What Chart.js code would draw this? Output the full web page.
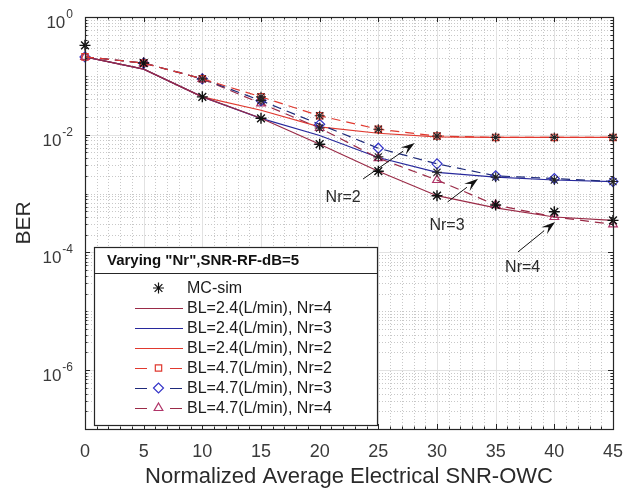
<!DOCTYPE html>
<html>
<head>
<meta charset="utf-8">
<script src="https://cdn.jsdelivr.net/npm/chart.js@4.4.1/dist/chart.umd.min.js"></script>
<style>
html,body{margin:0;padding:0;background:#fff;}
#wrap{position:relative;width:637px;height:492px;}
</style>
</head>
<body>
<div id="wrap"><canvas id="c" width="637" height="492"></canvas></div>
<script>
// ---------- data ----------
const snr = [0, 5, 10, 15, 20, 25, 30, 35, 40, 45];

const berBL24Nr4 = [0.21, 0.13, 0.044, 0.019, 0.0069, 0.0024, 0.00092, 0.00057, 0.00040, 0.00035];
const berBL24Nr3 = [0.21, 0.13, 0.044, 0.019, 0.0097, 0.0041, 0.0023, 0.0019, 0.0017, 0.0016];
const berBL24Nr2 = [0.21, 0.13, 0.044, 0.026, 0.0136, 0.0106, 0.0092, 0.0090, 0.0090, 0.0090];
const berBL47Nr2 = [0.21, 0.165, 0.089, 0.044, 0.021, 0.0124, 0.0095, 0.0090, 0.0090, 0.0090];
const berBL47Nr3 = [0.21, 0.165, 0.089, 0.038, 0.015, 0.0059, 0.0032, 0.0020, 0.0018, 0.0016];
const berBL47Nr4 = [0.21, 0.165, 0.089, 0.034, 0.013, 0.0040, 0.0017, 0.00064, 0.00040, 0.00030];

const mcSimA = [0.33, 0.165, 0.044, 0.019, 0.0069, 0.0024, 0.00092, 0.00064, 0.00049, 0.00035];
const mcSimB = [null, null, 0.089, 0.038, 0.013, 0.0042, 0.0023, 0.0019, 0.0017, 0.0016];
const mcSimC = [null, null, null, 0.044, 0.021, 0.0124, 0.0095, 0.0090, 0.0090, 0.0090];

const xTickValues = [0, 5, 10, 15, 20, 25, 30, 35, 40, 45];
const yTickValues = [1, 1e-2, 1e-4, 1e-6];

const legendTitle = 'Varying "Nr",SNR-RF-dB=5';
const legendLabels = ['MC-sim', 'BL=2.4(L/min), Nr=4', 'BL=2.4(L/min), Nr=3', 'BL=2.4(L/min), Nr=2',
                      'BL=4.7(L/min), Nr=2', 'BL=4.7(L/min), Nr=3', 'BL=4.7(L/min), Nr=4'];

const annotationLabels = ['Nr=2', 'Nr=3', 'Nr=4'];
const annotationTextAt = [[22.0, 8.7e-4], [30.85, 2.9e-4], [37.3, 5.5e-5]];
const arrowTail = [[23.7, 1.77e-3], [30.9, 7.2e-4], [36.9, 1.02e-4]];
const arrowHead = [[28.1, 7.2e-3], [33.5, 1.78e-3], [40.06, 3.3e-4]];

// ---------- styles ----------
const FONT = "'Liberation Sans', Arial, Helvetica, sans-serif";
const C_MAROON = '#9a2b47';
const C_BLUE = '#27289c';
const C_RED = '#e0392f';
const C_NAVY = '#1e2a7a';
const C_BLUEMK = '#3535c8';
const C_PINK = '#b03468';

const toXY = arr => snr.map((x, i) => ({x: x, y: arr[i]}));

const datasets = [
  {label: legendLabels[1], data: toXY(berBL24Nr4), borderColor: C_MAROON, borderWidth: 1.2, pointRadius: 0, order: 5},
  {label: legendLabels[2], data: toXY(berBL24Nr3), borderColor: C_BLUE, borderWidth: 1.2, pointRadius: 0, order: 5},
  {label: legendLabels[3], data: toXY(berBL24Nr2), borderColor: C_RED, borderWidth: 1.2, pointRadius: 0, order: 5},
  {label: legendLabels[4], data: toXY(berBL47Nr2), borderColor: C_RED, borderWidth: 1.2, borderDash: [9, 6],
   pointStyle: 'rect', pointRadius: 4.5, pointBorderColor: C_RED, pointBackgroundColor: 'rgba(0,0,0,0)', pointBorderWidth: 1.2, order: 4},
  {label: legendLabels[5], data: toXY(berBL47Nr3), borderColor: C_NAVY, borderWidth: 1.2, borderDash: [9, 6],
   pointStyle: 'rectRot', pointRadius: 5, pointBorderColor: C_BLUEMK, pointBackgroundColor: 'rgba(0,0,0,0)', pointBorderWidth: 1.2, order: 4},
  {label: legendLabels[6], data: toXY(berBL47Nr4), borderColor: C_MAROON, borderWidth: 1.2, borderDash: [9, 6],
   pointStyle: 'triangle', pointRadius: 5, pointBorderColor: C_PINK, pointBackgroundColor: 'rgba(0,0,0,0)', pointBorderWidth: 1.2, order: 4},
  {label: legendLabels[0], data: toXY(mcSimA), showLine: false, pointStyle: 'star', pointRadius: 5.5,
   pointBorderColor: '#111', pointBorderWidth: 1.4, pointBackgroundColor: '#111', order: 1},
  {label: 'mcB', data: toXY(mcSimB), showLine: false, pointStyle: 'star', pointRadius: 5,
   pointBorderColor: '#222', pointBorderWidth: 1.1, order: 1},
  {label: 'mcC', data: toXY(mcSimC), showLine: false, pointStyle: 'star', pointRadius: 5,
   pointBorderColor: '#222', pointBorderWidth: 1.1, order: 1}
];
datasets.forEach(d => { d.clip = 10; d.fill = false; d.tension = 0; d.spanGaps = false; });

// ---------- plugin: grid, frame, y labels, annotations, legend ----------
function minorLogValues(min, max) {
  const out = [];
  for (let e = Math.floor(Math.log10(min)); e < Math.ceil(Math.log10(max)); e++) {
    for (let k = 1; k <= 9; k++) {
      const v = k * Math.pow(10, e);
      if (v >= min && v <= max) out.push(v);
    }
  }
  return out;
}

const frame = {
  id: 'frame',
  beforeDatasetsDraw(chart) {
    const {ctx, chartArea: a, scales: {x, y}} = chart;
    ctx.save();
    ctx.lineWidth = 1;
    ctx.strokeStyle = '#c8c8c8';
    ctx.setLineDash([1, 2]);
    for (let v = 0; v <= 45; v++) {
      if (v % 5 === 0) continue;
      const px = Math.round(x.getPixelForValue(v)) + 0.5;
      ctx.beginPath(); ctx.moveTo(px, a.top); ctx.lineTo(px, a.bottom); ctx.stroke();
    }
    minorLogValues(1e-7, 1).forEach(v => {
      if (yTickValues.includes(v)) return;
      const py = Math.round(y.getPixelForValue(v)) + 0.5;
      ctx.beginPath(); ctx.moveTo(a.left, py); ctx.lineTo(a.right, py); ctx.stroke();
    });
    ctx.setLineDash([]);
    ctx.strokeStyle = '#e2e2e2';
    xTickValues.forEach(v => {
      const px = Math.round(x.getPixelForValue(v)) + 0.5;
      ctx.beginPath(); ctx.moveTo(px, a.top); ctx.lineTo(px, a.bottom); ctx.stroke();
    });
    yTickValues.forEach(v => {
      const py = Math.round(y.getPixelForValue(v)) + 0.5;
      ctx.beginPath(); ctx.moveTo(a.left, py); ctx.lineTo(a.right, py); ctx.stroke();
    });
    ctx.restore();
  },
  afterDatasetsDraw(chart) {
    const {ctx, chartArea: a, scales: {x, y}} = chart;
    ctx.save();
    ctx.strokeStyle = '#262626';
    ctx.lineWidth = 1.2;
    ctx.strokeRect(a.left + 0.5, a.top + 0.5, a.right - a.left, a.bottom - a.top);
    ctx.lineWidth = 1;
    ctx.beginPath();
    xTickValues.forEach(v => {
      const px = Math.round(x.getPixelForValue(v)) + 0.5;
      ctx.moveTo(px, a.bottom); ctx.lineTo(px, a.bottom - 5);
      ctx.moveTo(px, a.top); ctx.lineTo(px, a.top + 5);
    });
    for (let v = 0; v <= 45; v++) {
      const px = Math.round(x.getPixelForValue(v)) + 0.5;
      ctx.moveTo(px, a.bottom); ctx.lineTo(px, a.bottom - 2.5);
      ctx.moveTo(px, a.top); ctx.lineTo(px, a.top + 2.5);
    }
    minorLogValues(1e-7, 1).forEach(v => {
      const py = Math.round(y.getPixelForValue(v)) + 0.5;
      const L = yTickValues.includes(v) ? 5 : 2.5;
      ctx.moveTo(a.left, py); ctx.lineTo(a.left + L, py);
      ctx.moveTo(a.right, py); ctx.lineTo(a.right - L, py);
    });
    ctx.stroke();

    // y tick labels with superscript exponent
    ctx.fillStyle = '#3a3a3a';
    yTickValues.forEach(v => {
      const py = y.getPixelForValue(v);
      const e = String(Math.round(Math.log10(v)));
      ctx.font = '12px ' + FONT;
      const ew = ctx.measureText(e).width;
      const right = 73;
      ctx.textAlign = 'left';
      ctx.textBaseline = 'alphabetic';
      ctx.fillText(e, right - ew, py + 1);
      ctx.font = '17px ' + FONT;
      ctx.textAlign = 'right';
      ctx.fillText('10', right - ew - 1, py + 11);
    });

    // annotations
    ctx.strokeStyle = '#111';
    ctx.fillStyle = '#111';
    ctx.lineWidth = 1;
    for (let i = 0; i < annotationLabels.length; i++) {
      const tx = x.getPixelForValue(arrowTail[i][0]), ty = y.getPixelForValue(arrowTail[i][1]);
      const hx = x.getPixelForValue(arrowHead[i][0]), hy = y.getPixelForValue(arrowHead[i][1]);
      const ang = Math.atan2(hy - ty, hx - tx);
      const len = 14, wid = 4.5;
      const bx = hx - len * Math.cos(ang), by = hy - len * Math.sin(ang);
      ctx.beginPath(); ctx.moveTo(tx, ty); ctx.lineTo(bx, by); ctx.stroke();
      ctx.beginPath();
      ctx.moveTo(hx, hy);
      ctx.lineTo(bx + wid * Math.sin(ang), by - wid * Math.cos(ang));
      ctx.lineTo(hx - 0.6 * len * Math.cos(ang), hy - 0.6 * len * Math.sin(ang));
      ctx.lineTo(bx - wid * Math.sin(ang), by + wid * Math.cos(ang));
      ctx.closePath(); ctx.fill();
      ctx.font = '16px ' + FONT;
      ctx.textAlign = 'center';
      ctx.textBaseline = 'middle';
      ctx.fillStyle = '#2a2a2a';
      ctx.fillText(annotationLabels[i], x.getPixelForValue(annotationTextAt[i][0]), y.getPixelForValue(annotationTextAt[i][1]));
      ctx.fillStyle = '#111';
    }

    // legend box
    const L = a.left + 9, T = 247, R = 377, B = 425;
    ctx.fillStyle = '#fff';
    ctx.fillRect(L, T, R - L, B - T);
    ctx.strokeStyle = '#262626';
    ctx.lineWidth = 1.2;
    ctx.strokeRect(L + 0.5, T + 0.5, R - L, B - T);
    ctx.beginPath(); ctx.moveTo(L, 273.5); ctx.lineTo(R, 273.5); ctx.stroke();
    ctx.fillStyle = '#111';
    ctx.font = 'bold 15px ' + FONT;
    ctx.textAlign = 'left';
    ctx.textBaseline = 'middle';
    ctx.fillText(legendTitle, L + 13, 261);

    const styles = [
      {line: null, marker: 'star', mc: '#111'},
      {line: C_MAROON, dash: false},
      {line: C_BLUE, dash: false},
      {line: C_RED, dash: false},
      {line: C_RED, dash: true, marker: 'rect', mc: C_RED, r: 4.5},
      {line: C_NAVY, dash: true, marker: 'rectRot', mc: C_BLUEMK, r: 5},
      {line: C_MAROON, dash: true, marker: 'triangle', mc: C_PINK, r: 5}
    ];
    ctx.font = '16px ' + FONT;
    for (let i = 0; i < legendLabels.length; i++) {
      const ry = 288 + i * 20;
      const s = styles[i];
      ctx.lineWidth = 1.2;
      if (s.line) {
        ctx.strokeStyle = s.line;
        ctx.beginPath();
        if (s.dash) {
          ctx.moveTo(135, ry + 0.5); ctx.lineTo(147, ry + 0.5);
          ctx.moveTo(170, ry + 0.5); ctx.lineTo(182, ry + 0.5);
        } else {
          ctx.moveTo(135, ry + 0.5); ctx.lineTo(183, ry + 0.5);
        }
        ctx.stroke();
      }
      if (s.marker) {
        ctx.strokeStyle = s.mc;
        ctx.fillStyle = 'rgba(0,0,0,0)';
        Chart.helpers.drawPoint(ctx, {pointStyle: s.marker, radius: s.r || 5.5, rotation: 0, borderWidth: 1.2}, 158.5, ry);
      }
      ctx.fillStyle = '#1a1a1a';
      ctx.textAlign = 'left';
      ctx.textBaseline = 'middle';
      ctx.fillText(legendLabels[i], 187, ry + 1);
    }
    ctx.restore();
  }
};

new Chart(document.getElementById('c'), {
  type: 'line',
  data: {datasets: datasets},
  options: {
    responsive: false,
    animation: false,
    devicePixelRatio: 1,
    layout: {padding: {top: 17, right: 24, left: 0, bottom: 0}},
    plugins: {legend: {display: false}, tooltip: {enabled: false}},
    scales: {
      x: {
        type: 'linear', min: 0, max: 45,
        afterBuildTicks: s => { s.ticks = xTickValues.map(v => ({value: v})); },
        afterFit: s => { s.height = 63; },
        grid: {display: false, drawTicks: false},
        border: {display: false},
        ticks: {font: {size: 18, family: FONT}, color: '#3a3a3a', padding: 12, maxRotation: 0, autoSkip: false},
        title: {display: true, text: 'Normalized Average Electrical SNR-OWC', font: {size: 22, family: FONT},
                color: '#2a2a2a', padding: {top: 0, bottom: 2}}
      },
      y: {
        type: 'logarithmic', min: 1e-7, max: 1,
        afterBuildTicks: s => { s.ticks = yTickValues.map(v => ({value: v})); },
        afterFit: s => { s.width = 85; },
        grid: {display: false, drawTicks: false},
        border: {display: false},
        ticks: {display: false},
        title: {display: true, text: 'BER', font: {size: 21, family: FONT}, color: '#2a2a2a', padding: {top: 12, bottom: 0}}
      }
    }
  },
  plugins: [frame]
});
</script>
</body>
</html>
